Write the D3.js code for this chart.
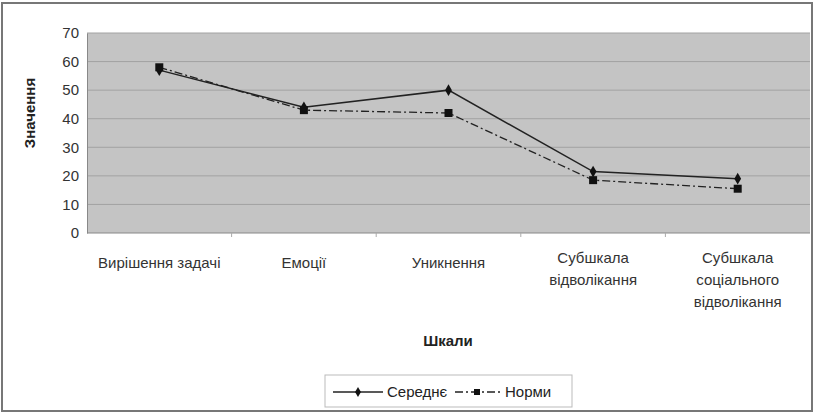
<!DOCTYPE html>
<html lang="uk">
<head>
<meta charset="UTF-8" />
<title>Шкали</title>
<script src="https://d3js.org/d3.v7.min.js"></script>
<style>
  body { margin: 0; background: #fff; }
  svg { display: block; font-family: "Liberation Sans", Arial, sans-serif; }
  .tick text { fill: #333; }
</style>
</head>
<body>
<svg id="chart"></svg>
<script>
  const categories = [
    ["Вирішення задачі"],
    ["Емоції"],
    ["Уникнення"],
    ["Субшкала", "відволікання"],
    ["Субшкала", "соціального", "відволікання"]
  ];
  const average = [57, 44, 50, 21.5, 19];
  const norms = [58, 43, 42, 18.5, 15.5];
  const yTicks = [0, 10, 20, 30, 40, 50, 60, 70];

  const W = 815, H = 414;
  const margin = { top: 33, right: 5, bottom: 181, left: 87 };
  const width = W - margin.left - margin.right;
  const height = H - margin.top - margin.bottom;

  const svg = d3.select("#chart").attr("width", W).attr("height", H);

  // outer frame
  svg.append("rect")
    .attr("x", 2).attr("y", 3).attr("width", W - 5).attr("height", H - 6)
    .attr("fill", "#fff").attr("stroke", "#777").attr("stroke-width", 2);

  const g = svg.append("g").attr("transform", "translate(" + margin.left + "," + margin.top + ")");

  const x = d3.scaleBand().domain(d3.range(categories.length)).range([0, width]);
  const y = d3.scaleLinear().domain([0, 70]).range([height, 0]);

  g.append("rect").attr("width", width).attr("height", height).attr("fill", "#c4c4c4");

  g.selectAll(".grid").data(yTicks.slice(1)).join("line")
    .attr("x1", 0).attr("x2", width)
    .attr("y1", d => y(d)).attr("y2", d => y(d))
    .attr("stroke", "#a2a2a2").attr("stroke-width", 1);

  const yAxis = g.append("g").call(d3.axisLeft(y).tickValues(yTicks).tickSize(0).tickPadding(8));
  yAxis.select(".domain").attr("stroke", "#888");
  yAxis.selectAll("text").style("font-size", "15px");

  // x axis baseline and small ticks between categories
  g.append("line").attr("x1", 0).attr("x2", width).attr("y1", height).attr("y2", height)
    .attr("stroke", "#888");
  g.selectAll(".xt").data(d3.range(1, categories.length)).join("line")
    .attr("x1", d => x(d)).attr("x2", d => x(d))
    .attr("y1", height).attr("y2", height + 4)
    .attr("stroke", "#aaa");

  // category labels
  const labels = g.selectAll(".cat").data(categories).join("text")
    .attr("text-anchor", "middle")
    .attr("fill", "#333")
    .style("font-size", "15px")
    .attr("transform", (d, i) => "translate(" + (x(i) + x.bandwidth() / 2) + "," + (height + 35 - (d.length > 1 ? 5 : 0)) + ")");
  labels.selectAll("tspan").data(d => d).join("tspan")
    .attr("x", 0).attr("dy", (d, i) => i === 0 ? 0 : 22)
    .text(d => d);

  // axis titles
  g.append("text").attr("x", 361).attr("y", height + 113)
    .attr("text-anchor", "middle").attr("fill", "#222")
    .style("font-size", "15px").style("font-weight", "bold").text("Шкали");
  g.append("text").attr("transform", "rotate(-90)")
    .attr("x", -y(42)).attr("y", -52)
    .attr("text-anchor", "middle").attr("fill", "#222")
    .style("font-size", "15px").style("font-weight", "bold").text("Значення");

  const cx = i => x(i) + x.bandwidth() / 2;
  const line = d3.line().x((d, i) => cx(i)).y(d => y(d));

  g.append("path").datum(norms).attr("d", line)
    .attr("fill", "none").attr("stroke", "#222").attr("stroke-width", 1.3)
    .attr("stroke-dasharray", "8,3,2,3");
  g.append("path").datum(average).attr("d", line)
    .attr("fill", "none").attr("stroke", "#222").attr("stroke-width", 1.5);

  g.selectAll(".sq").data(norms).join("rect")
    .attr("x", (d, i) => cx(i) - 4).attr("y", d => y(d) - 4)
    .attr("width", 8).attr("height", 8).attr("fill", "#111");
  g.selectAll(".dm").data(average).join("path")
    .attr("d", d3.symbol(d3.symbolDiamond, 40))
    .attr("transform", (d, i) => "translate(" + cx(i) + "," + y(d) + ")")
    .attr("fill", "#111");

  // legend
  const lg = svg.append("g").attr("transform", "translate(325,375)");
  lg.append("rect").attr("width", 247).attr("height", 32)
    .attr("fill", "#fff").attr("stroke", "#bbb");
  lg.append("line").attr("x1", 8).attr("x2", 58).attr("y1", 17).attr("y2", 17)
    .attr("stroke", "#222").attr("stroke-width", 1.5);
  lg.append("path").attr("d", d3.symbol(d3.symbolDiamond, 30))
    .attr("transform", "translate(33,17)").attr("fill", "#111");
  lg.append("text").attr("x", 62).attr("y", 22).attr("fill", "#222")
    .style("font-size", "15px").text("Середнє");
  lg.append("line").attr("x1", 130).attr("x2", 176).attr("y1", 17).attr("y2", 17)
    .attr("stroke", "#222").attr("stroke-width", 1.3).attr("stroke-dasharray", "8,3,2,3");
  lg.append("rect").attr("x", 149).attr("y", 14).attr("width", 6).attr("height", 6).attr("fill", "#111");
  lg.append("text").attr("x", 180).attr("y", 22).attr("fill", "#222")
    .style("font-size", "15px").text("Норми");
</script>
</body>
</html>
